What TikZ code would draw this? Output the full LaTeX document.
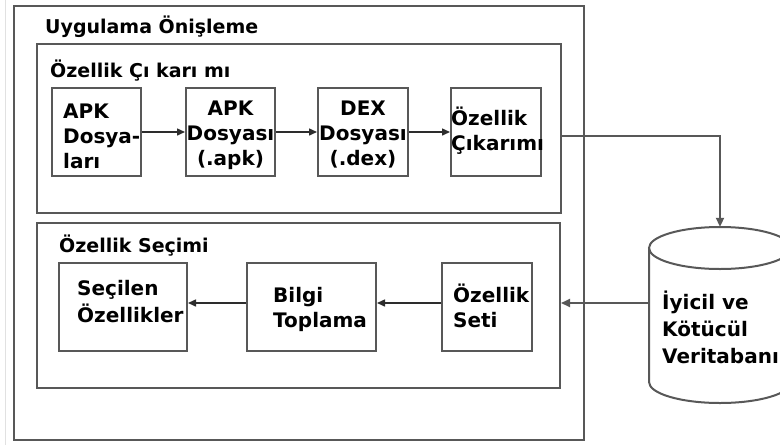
\documentclass[tikz,border=0pt]{standalone}
\usepackage{fontspec}
\setmainfont{DejaVu Sans}
\usetikzlibrary{arrows.meta}
\definecolor{framegray}{RGB}{88,88,88}
\definecolor{arrowgray}{RGB}{45,45,45}
\definecolor{edgegray}{RGB}{225,225,225}
\tikzset{
  frame/.style={draw=framegray, line width=2pt},
  blk/.style={frame, rectangle, inner sep=0pt},
  title/.style={font=\bfseries\fontsize{19}{22}\selectfont, inner sep=0pt, anchor=base west},
  lbl/.style={font=\bfseries\fontsize{20}{25}\selectfont, inner sep=0pt, align=left, anchor=base west},
  clbl/.style={font=\bfseries\fontsize{20}{25}\selectfont, inner sep=0pt, align=center, anchor=base},
  arr/.style={draw=arrowgray, line width=1.5pt, -{Triangle[length=8pt,width=7pt]}},
  feed/.style={draw=framegray, line width=2pt, -{Triangle[length=9pt,width=8pt]}}
}
\begin{document}
\begin{tikzpicture}[x=1pt, y=-1pt]
  \clip (0,0) rectangle (780,445);
  \fill[white] (0,0) rectangle (780,445);
  \draw[edgegray, line width=1pt] (5,0) -- (5,445);

  % outer and section frames
  \node[blk, minimum width=570, minimum height=434] (pre) at (299,223) {};
  \node[title] (pretitle) at (45,33) {Uygulama Önişleme};

  \node[blk, minimum width=524, minimum height=169] (ext) at (299,128.5) {};
  \node[title] (exttitle) at (50,77) {Özellik Çı karı mı};

  \node[blk, minimum width=523, minimum height=165] (sel) at (298.5,305.5) {};
  \node[title] (seltitle) at (59,252) {Özellik Seçimi};

  % extraction chain (node base = baseline of the last line)
  \node[blk, minimum width=89, minimum height=88] (apks) at (96.5,132) {};
  \node[blk, minimum width=89, minimum height=88] (apk) at (230.5,132) {};
  \node[blk, minimum width=90, minimum height=88] (dex) at (363,132) {};
  \node[blk, minimum width=90, minimum height=88] (fx) at (496,132) {};
  \node[lbl] (apkst) at (63,168) {APK\\Dosya-\\ları};
  \node[clbl] (apkt) at (230.5,165) {APK\\Dosyası\\(.apk)};
  \node[clbl] (dext) at (363,165) {DEX\\Dosyası\\(.dex)};
  \node[lbl] (fxt) at (451,150) {Özellik\\Çıkarımı};

  % selection chain
  \node[blk, minimum width=128, minimum height=88] (chosen) at (123,307) {};
  \node[blk, minimum width=129, minimum height=88] (gain) at (311.5,307) {};
  \node[blk, minimum width=90, minimum height=88] (fset) at (487,307) {};
  \node[lbl, font=\bfseries\fontsize{20}{27}\selectfont] (chosent) at (77,322) {Seçilen\\Özellikler};
  \node[lbl] (gaint) at (273,327) {Bilgi\\Toplama};
  \node[lbl] (fsett) at (453,327) {Özellik\\Seti};

  % database cylinder
  \node[inner sep=0pt, minimum width=142, minimum height=176] (db) at (720,315) {};
  \draw[frame] (649,248) -- (649,382)
    arc[start angle=180, end angle=0, x radius=71, y radius=21] -- (791,248);
  \draw[frame] (720,248) ellipse [x radius=71, y radius=21];
  \node[lbl, font=\bfseries\fontsize{20}{27}\selectfont] (dbt) at (662,363) {İyicil ve\\Kötücül\\Veritabanı};

  % connectors
  \draw[arr] (apks) -- (apk);
  \draw[arr] (apk) -- (dex);
  \draw[arr] (dex) -- (fx);
  \draw[feed] ([yshift=-7.5pt]ext.east) -| (db.north);
  \draw[feed] ([yshift=12pt]db.west) coordinate (dbout) -- (sel.east |- dbout);
  \draw[arr] ([yshift=4pt]fset.west) -- ([yshift=4pt]gain.east);
  \draw[arr] ([yshift=4pt]gain.west) -- ([yshift=4pt]chosen.east);
\end{tikzpicture}
\end{document}
